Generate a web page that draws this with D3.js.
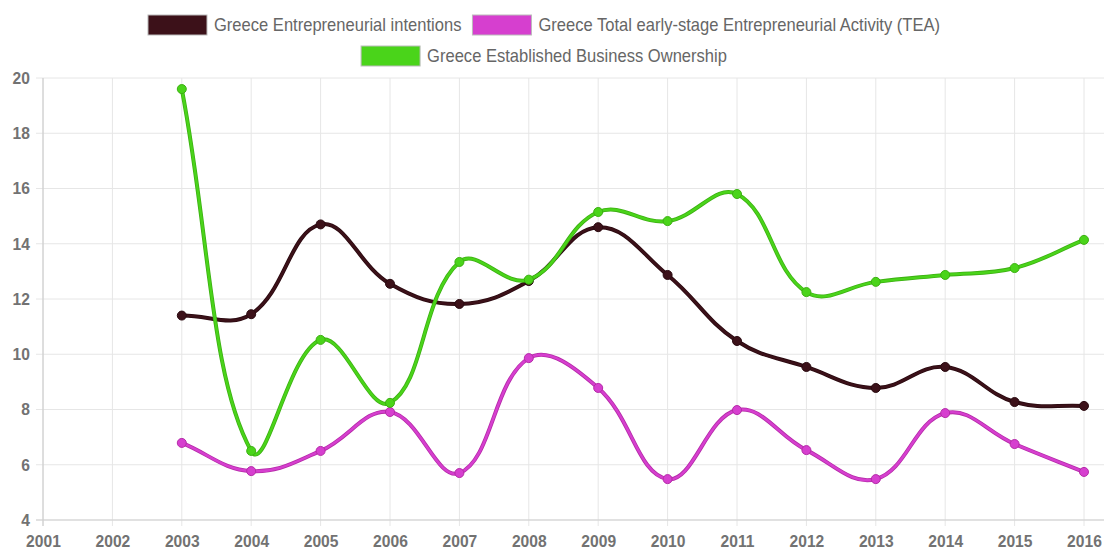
<!DOCTYPE html>
<html><head><meta charset="utf-8">
<script src="https://cdn.jsdelivr.net/npm/d3@7"></script>
<style>body{margin:0;background:#fff;}svg{display:block;font-family:"Liberation Sans",Arial,sans-serif;}</style>
</head><body><svg id="c" width="1104" height="552"></svg>
<script>
const years = ["2001","2002","2003","2004","2005","2006","2007","2008","2009","2010","2011","2012","2013","2014","2015","2016"];
const dataYears = ["2003","2004","2005","2006","2007","2008","2009","2010","2011","2012","2013","2014","2015","2016"];
const intentions = [11.4,11.45,14.7,12.55,11.82,12.65,14.6,12.87,10.48,9.54,8.78,9.54,8.27,8.13];
const tea = [6.79,5.77,6.5,7.91,5.7,9.86,8.78,5.48,7.98,6.53,5.48,7.87,6.75,5.74];
const ebo = [19.6,6.5,10.52,8.24,13.34,12.7,15.15,14.82,15.8,12.25,12.62,12.87,13.12,14.14];
const yTicks = [4,6,8,10,12,14,16,18,20];
const seriesNames = ["Greece Entrepreneurial intentions","Greece Total early-stage Entrepreneurial Activity (TEA)","Greece Established Business Ownership"];
const colors = ["#3c1119","#d63fcf","#4ad41a"];
const borders = ["#2a0a10","#b52aa8","#3cb012"];

const SX = 0.92;
const svg = d3.select("#c");
const x = d3.scalePoint().domain(years).range([43,1084]);
const y = d3.scaleLinear().domain([4,20]).range([520,78]);

// grid
const g = svg.append("g");
g.selectAll(".hg").data(yTicks).join("line")
 .attr("x1",36).attr("x2",1104).attr("y1",d=>y(d)).attr("y2",d=>y(d))
 .attr("stroke","#e6e6e6").attr("stroke-width",1);
g.selectAll(".vg").data(years).join("line")
 .attr("x1",d=>x(d)).attr("x2",d=>x(d)).attr("y1",78).attr("y2",526)
 .attr("stroke","#e6e6e6").attr("stroke-width",1);
g.append("line").attr("x1",43).attr("x2",43).attr("y1",78).attr("y2",526).attr("stroke","#c8c8c8");
g.append("line").attr("x1",36).attr("x2",1104).attr("y1",520).attr("y2",520).attr("stroke","#cfcfcf");

// axes
const yAxis = d3.axisLeft(y).tickValues(yTicks).tickSize(0).tickPadding(0);
const ya = svg.append("g").attr("transform","translate(30,0)").call(yAxis);
ya.select(".domain").remove();
ya.selectAll("text").attr("font-size","17px").attr("font-weight","bold").attr("fill","#727272")
  .attr("font-family","Liberation Sans, Arial, sans-serif").attr("transform",`scale(${SX},1)`);
const xAxis = d3.axisBottom(x).tickSize(0).tickPadding(0);
const xa = svg.append("g").attr("transform","translate(0,547)").call(xAxis);
xa.select(".domain").remove();
xa.selectAll("text").attr("font-size","17px").attr("font-weight","bold").attr("fill","#727272").attr("dy","0")
  .attr("font-family","Liberation Sans, Arial, sans-serif").attr("transform",`scale(${SX},1)`);

// Chart.js-like spline
function splinePath(pts, t){
  const cps = pts.map((p,i)=>{
    const p0 = pts[i-1]||p, p2 = pts[i+1]||p;
    const d01 = Math.hypot(p[0]-p0[0],p[1]-p0[1]);
    const d12 = Math.hypot(p2[0]-p[0],p2[1]-p[1]);
    let s01 = d01/(d01+d12), s12 = d12/(d01+d12);
    if(isNaN(s01)) s01=0; if(isNaN(s12)) s12=0;
    const fa=t*s01, fb=t*s12;
    return {prev:[p[0]-fa*(p2[0]-p0[0]), p[1]-fa*(p2[1]-p0[1])],
            next:[p[0]+fb*(p2[0]-p0[0]), p[1]+fb*(p2[1]-p0[1])]};
  });
  const path = d3.path();
  path.moveTo(pts[0][0],pts[0][1]);
  for(let i=1;i<pts.length;i++){
    path.bezierCurveTo(cps[i-1].next[0],cps[i-1].next[1],cps[i].prev[0],cps[i].prev[1],pts[i][0],pts[i][1]);
  }
  return path.toString();
}

const series = [intentions, tea, ebo];
series.forEach((vals,si)=>{
  const pts = vals.map((v,i)=>[x(dataYears[i]), y(v)]);
  const d = splinePath(pts,0.4);
  svg.append("path").attr("d",d).attr("fill","none").attr("stroke",borders[si]).attr("stroke-width",4);
  svg.append("path").attr("d",d).attr("fill","none").attr("stroke",colors[si]).attr("stroke-width",2.4);
  svg.append("g").selectAll("circle").data(vals).join("circle")
    .attr("cx",(v,i)=>x(dataYears[i])).attr("cy",v=>y(v)).attr("r",4.5)
    .attr("fill",colors[si]).attr("stroke",borders[si]).attr("stroke-width",1);
});

// legend
const legend = svg.append("g");
const rows = [[0,1],[2]];
const rowY = [25,56];
rows.forEach((row,ri)=>{
  const items = row.map(si=>{
    const tg = legend.append("g");
    const t = tg.append("text").attr("font-size","18px").attr("fill","#666").attr("dy","0.35em")
      .attr("transform",`scale(${SX},1)`).text(seriesNames[si]);
    return {si, tg, w:t.node().getComputedTextLength()*SX};
  });
  const itemW = items.map(it=>59+7+it.w);
  const total = d3.sum(itemW) + 11*(items.length-1);
  let cx = 544 - total/2;
  items.forEach((it,k)=>{
    legend.append("rect").attr("x",cx).attr("y",rowY[ri]-10).attr("width",59).attr("height",20)
      .attr("fill",colors[it.si]).attr("stroke","#bbb").attr("stroke-width",1);
    it.tg.attr("transform",`translate(${cx+66},${rowY[ri]})`);
    cx += itemW[k]+11;
  });
});
</script></body></html>
